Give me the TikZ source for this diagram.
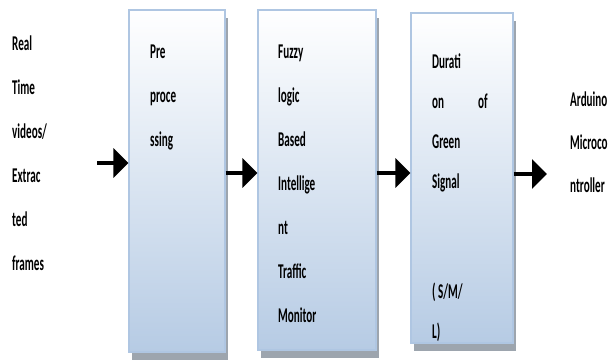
\documentclass[tikz,border=0pt]{standalone}
\usepackage{fontspec}
\setmainfont{Carlito}[FakeStretch=0.53]
\usetikzlibrary{arrows.meta,shadows}
\definecolor{boxblue}{HTML}{B6CBE4}
\definecolor{boxedge}{HTML}{AFC6E2}
\definecolor{shadegray}{HTML}{9DA5AE}
\tikzset{
  stage/.style={draw=boxedge, line width=1.3pt, top color=white, bottom color=boxblue,
    inner sep=0pt, drop shadow={shadow xshift=3pt, shadow yshift=-8pt, fill=shadegray, opacity=1}},
  lbl/.style={anchor=base west, inner sep=0pt, font=\fontsize{21}{24}\selectfont\bfseries},
  arr/.style={line width=4.5pt, -{Triangle[length=15pt,width=29pt]}}
}
\begin{document}
\begin{tikzpicture}[x=1pt,y=-1pt]
\useasboundingbox[fill=white] (0,0) rectangle (608,360);
% boxes
\node[stage, minimum width=96pt, minimum height=342pt] (b1) at (177,181) {};
\node[stage, minimum width=118pt, minimum height=340pt] (b2) at (317,180) {};
\node[stage, minimum width=102pt, minimum height=330pt] (b3) at (462,178) {};
% input text
\foreach \t [count=\i] in {Real,Time,videos/,Extrac,ted,frames}
  \node[lbl] (in\i) at (12,{50+44*(\i-1)}) {\t};
% box 1 text
\foreach \t [count=\i] in {Pre,proce,ssing}
  \node[lbl] (p\i) at (150,{58+44*(\i-1)}) {\t};
% box 2 text
\foreach \t [count=\i] in {Fuzzy,logic,Based,Intellige,nt,Traffic,Monitor}
  \node[lbl] (f\i) at (278,{58+44*(\i-1)}) {\t};
% box 3 text
\node[lbl] (d1) at (432,68) {Durati};
\node[lbl] (d2) at (432,108) {on};
\node[lbl] (d2b) at (478,108) {of};
\node[lbl] (d3) at (432,148) {Green};
\node[lbl] (d4) at (432,188) {Signal};
\node[lbl] (d5) at (432,298) {( S/M/};
\node[lbl] (d6) at (432,338) {L)};
% output text
\node[lbl] (o1) at (570,106) {Arduino};
\node[lbl] (o2) at (570,149) {Microco};
\node[lbl] (o3) at (570,192) {ntroller};
% arrows
\coordinate (s1) at (97,163);
\coordinate (y2) at (0,173);
\coordinate (y3) at (0,173);
\coordinate (e4) at (547,174);
\draw[arr] (s1) -- (s1 -| b1.west);
\draw[arr] (b1.east |- y2) -- (b2.west |- y2);
\draw[arr] (b2.east |- y3) -- (b3.west |- y3);
\draw[arr] (b3.east |- e4) -- (e4);
\end{tikzpicture}
\end{document}
